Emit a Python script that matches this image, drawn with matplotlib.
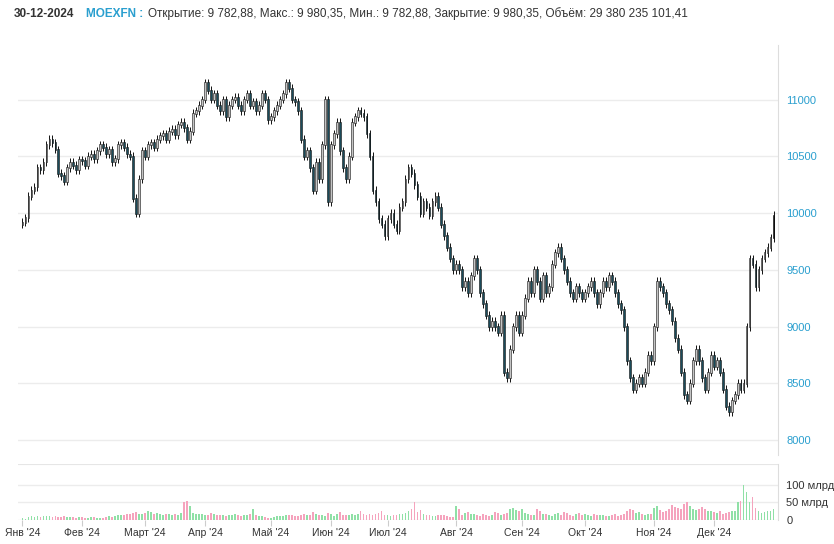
import numpy as np
import matplotlib.pyplot as plt

plt.rcParams['font.family'] = ['Liberation Sans', 'DejaVu Sans']

# daily closes per month
closes_by_month = [
    [9920, 9960, 10150, 10200, 10230, 10400, 10380, 10450, 10600, 10650, 10620, 10560, 10350, 10330, 10280, 10400, 10450, 10420, 10380, 10470],
    [10460, 10420, 10500, 10520, 10480, 10550, 10600, 10580, 10520, 10560, 10450, 10480, 10600, 10620, 10580, 10520, 10500, 10130, 10000, 10300, 10550],
    [10500, 10600, 10620, 10580, 10650, 10680, 10700, 10650, 10720, 10740, 10690, 10780, 10800, 10750, 10650, 10720, 10880, 10900, 10950, 11000],
    [11150, 11080, 11000, 11050, 10950, 10900, 11000, 10850, 10950, 11000, 11020, 10950, 10900, 11000, 11050, 10950, 10980, 10900, 10950, 11050, 11000, 10820],
    [10850, 10900, 10950, 11000, 11050, 11150, 11100, 11000, 10980, 10900, 10650, 10500, 10550, 10400, 10200, 10450, 10300, 10600, 11000, 10100],
    [10600, 10700, 10800, 10550, 10400, 10300, 10500, 10800, 10850, 10900, 10880, 10850, 10700, 10500, 10200, 10100, 9950, 9900, 9800],
    [9950, 10000, 9900, 9850, 10050, 10100, 10300, 10400, 10350, 10250, 10150, 10000, 10100, 10050, 9980, 10100, 10150, 10050, 9900, 9800, 9700, 9600, 9500],
    [9550, 9500, 9350, 9400, 9300, 9450, 9600, 9500, 9300, 9200, 9100, 9000, 9050, 9000, 8950, 9100, 8600, 8550, 8800, 9000, 9100, 8950],
    [9100, 9250, 9400, 9300, 9500, 9400, 9250, 9450, 9300, 9350, 9550, 9650, 9700, 9600, 9500, 9400, 9300, 9250, 9350, 9300, 9250],
    [9300, 9350, 9400, 9300, 9200, 9300, 9400, 9350, 9450, 9400, 9300, 9200, 9150, 9000, 8700, 8550, 8450, 8500, 8550, 8500, 8600, 8750, 8700],
    [9000, 9400, 9350, 9300, 9200, 9150, 9050, 8900, 8800, 8600, 8400, 8350, 8500, 8700, 8800, 8700, 8550, 8450, 8600, 8750],
    [8650, 8700, 8600, 8450, 8300, 8250, 8350, 8400, 8500, 8450, 8500, 9000, 9600, 9550, 9350, 9500, 9600, 9650, 9700, 9782.88, 9980.35],
]
# volume, billions
volumes_by_month = [
    [5, 4, 8, 10, 9, 11, 9, 10, 12, 11, 9, 10, 8, 9, 10, 9, 8, 9, 7, 9],
    [8, 6, 7, 9, 8, 7, 6, 7, 9, 10, 8, 12, 14, 13, 15, 17, 16, 20, 22, 18, 17],
    [20, 25, 22, 18, 20, 17, 15, 18, 16, 14, 17, 15, 20, 50, 55, 40, 20, 18, 16, 17],
    [15, 14, 20, 16, 15, 14, 13, 12, 13, 14, 16, 15, 12, 13, 14, 17, 30, 14, 12, 10, 9, 5],
    [5, 9, 11, 12, 10, 14, 15, 13, 12, 11, 14, 16, 13, 15, 22, 18, 14, 13, 12, 20],
    [16, 12, 18, 22, 15, 14, 13, 16, 14, 17, 24, 18, 15, 16, 14, 18, 20, 24, 15],
    [14, 12, 13, 15, 16, 18, 20, 25, 30, 50, 22, 28, 18, 15, 14, 12, 11, 13, 15, 14, 10, 9, 8],
    [40, 30, 15, 20, 22, 18, 16, 14, 12, 16, 14, 12, 15, 22, 20, 15, 18, 20, 30, 35, 28, 25],
    [30, 20, 18, 15, 14, 30, 25, 18, 16, 14, 12, 18, 20, 15, 22, 20, 14, 12, 18, 20, 15],
    [16, 14, 12, 16, 14, 13, 15, 12, 11, 14, 16, 12, 14, 18, 25, 30, 28, 20, 22, 18, 15, 17, 16],
    [35, 40, 28, 22, 26, 30, 42, 38, 35, 30, 45, 50, 40, 30, 28, 32, 38, 30, 26, 25],
    [22, 20, 24, 18, 20, 22, 25, 26, 50, 55, 100, 80, 50, 65, 35, 25, 20, 22, 25, 24, 30],
]
month_labels = ["Янв '24", "Фев '24", "Март '24", "Апр '24", "Май '24", "Июн '24",
                "Июл '24", "Авг '24", "Сен '24", "Окт '24", "Ноя '24", "Дек '24"]

closes = np.array([c for m in closes_by_month for c in m], dtype=float)
volumes = np.array([v for m in volumes_by_month for v in m], dtype=float)
opens = np.concatenate([[9900.0], closes[:-1]])
opens[-1] = 9782.88
month_starts = np.cumsum([0] + [len(m) for m in closes_by_month[:-1]])
n = len(closes)
x = np.arange(n)
up = closes >= opens

W, H = 834, 544
fig = plt.figure(figsize=(W / 100, H / 100), dpi=100)
ax = fig.add_axes([18 / W, (H - 455) / H, 760 / W, 410 / H])
axv = fig.add_axes([18 / W, (H - 520) / H, 760 / W, 56 / H])

teal = '#1b4b5a'
lab = '#2a9fcf'
hi = np.maximum(opens, closes) + 35
lo = np.minimum(opens, closes) - 35
ax.vlines(x, lo, hi, color='#111111', lw=0.7, zorder=2)
body_col = np.where(up, '#c4c4c4', teal)
body_col[-1] = 'black'
ax.bar(x, np.abs(closes - opens) + 8, bottom=np.minimum(opens, closes) - 4, width=0.6,
       color=body_col, edgecolor='#111111', linewidth=0.4, zorder=3)
ax.set_xlim(-1.5, n + 0.5)
ax.set_ylim(7870, 11480)
ax.set_yticks([8000, 8500, 9000, 9500, 10000, 10500, 11000])
ax.yaxis.tick_right()
ax.tick_params(axis='y', length=0, labelsize=8, labelcolor=lab, pad=6)
ax.set_xticks([])
ax.grid(axis='y', color='#ececec', lw=1)
ax.set_axisbelow(True)
for s in ax.spines.values():
    s.set_visible(False)
ax.spines['right'].set_visible(True)
ax.spines['right'].set_color('#dddddd')

vcol = np.where(up, '#8fe0a6', '#f5a3bd')
axv.bar(x, volumes, width=0.6, color=vcol)
axv.set_xlim(-1.5, n + 0.5)
axv.set_ylim(0, 158)
axv.set_yticks([0, 50, 100])
axv.set_yticklabels(['0', '50 млрд', '100 млрд'])
axv.yaxis.tick_right()
axv.tick_params(axis='y', length=0, labelsize=8, labelcolor='#333333', pad=6)
axv.grid(axis='y', color='#ececec', lw=1)
axv.axhline(158, color='#e6e6e6', lw=1.5)
axv.set_axisbelow(True)
axv.set_xticks(month_starts)
axv.set_xticklabels(month_labels, fontsize=7.5, color='#333333')
axv.tick_params(axis='x', length=4, color='#cccccc', pad=2)
for s in axv.spines.values():
    s.set_visible(False)
axv.spines['right'].set_visible(True)
axv.spines['right'].set_color('#dddddd')

# header
r = fig.canvas.get_renderer()
parts = [("30-12-2024", 'bold', '#333333', 12),
         ("MOEXFN :", 'bold', lab, 4),
         ("Открытие: 9 782,88, Макс.: 9 980,35, Мин.: 9 782,88, Закрытие: 9 980,35, Объём: 29 380 235 101,41", 'normal', '#333333', 4)]
px = 14
for txt, w, c, gap in parts:
    t = fig.text(px / W, 1 - 14 / H, txt, fontsize=8.5, fontweight=w, color=c, va='center')
    bb = t.get_window_extent(r)
    px += bb.width + gap

fig.savefig('out.png', dpi=100, facecolor='white')
